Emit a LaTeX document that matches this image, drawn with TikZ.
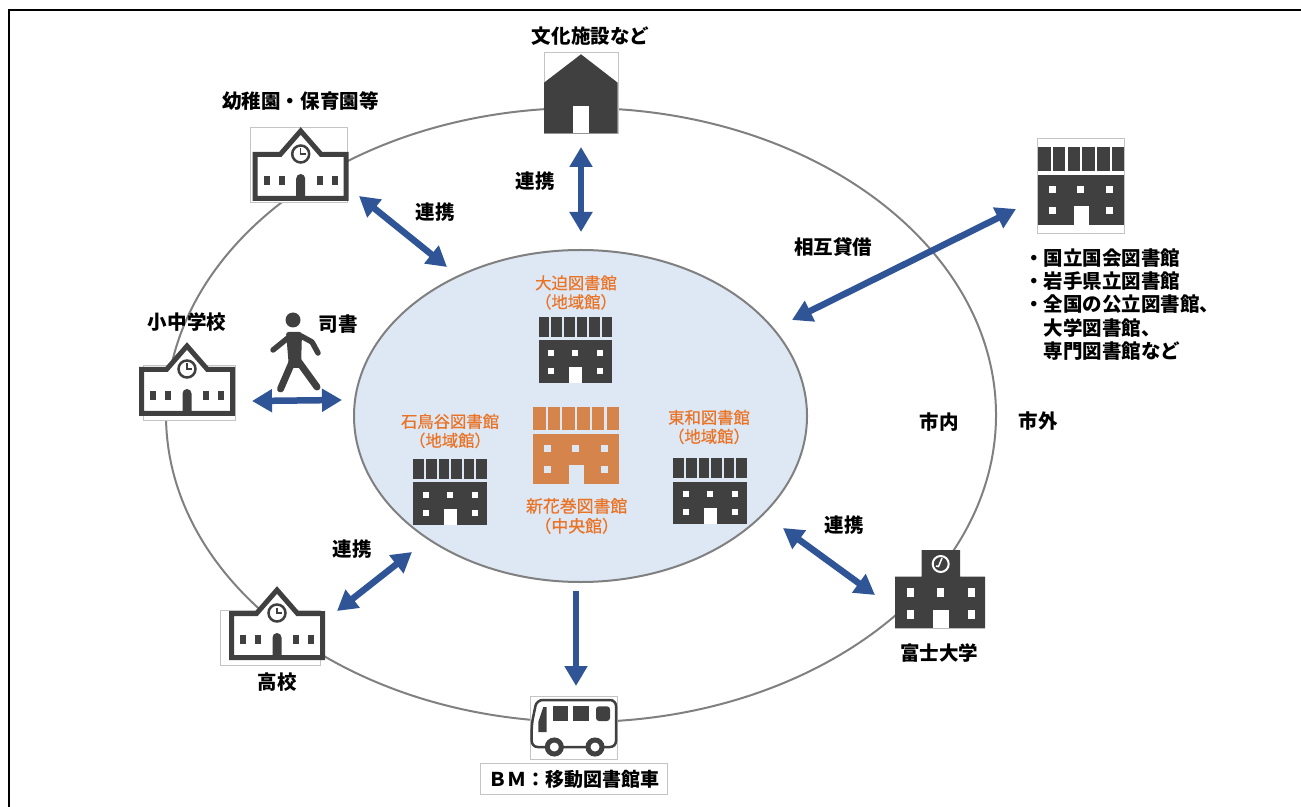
\documentclass[tikz,border=0pt]{standalone}
\usepackage{fontspec}
\setmainfont{Noto Sans CJK JP}
\newfontfamily\orangefont{Noto Sans CJK JP}[FakeBold=0.6]
\usetikzlibrary{arrows.meta,shapes.geometric}
\definecolor{icondark}{HTML}{404040}
\definecolor{linkblue}{HTML}{2F5597}
\definecolor{liborange}{HTML}{D5844C}
\definecolor{textorange}{HTML}{EA7326}
\definecolor{hubblue}{HTML}{DDE8F4}
\definecolor{ringgray}{HTML}{808080}
\definecolor{boxgray}{HTML}{C4C4C4}
\tikzset{
  linkarrow/.style={{Triangle[length=4mm,width=4.4mm]}-{Triangle[length=4mm,width=4.4mm]}, line width=1.3mm, draw=linkblue},
  pusharrow/.style={-{Triangle[length=4mm,width=4.4mm]}, line width=1.3mm, draw=linkblue},
  iconbox/.style={draw=boxgray, fill=white, line width=0.2mm, inner sep=0pt},
  blacklabel/.style={font=\fontsize{11.1}{13}\selectfont\bfseries, inner sep=0pt, align=center},
  orangelabel/.style={font=\orangefont\fontsize{9.3}{10.8}\selectfont, text=textorange, inner sep=0pt, align=center},
  pics/schoolicon/.style={code={
    \draw[draw=icondark, fill=white, line width=1mm] (-20.5,26.5) -- (0,3) -- (20.5,26.5) -- (45.5,26.5) -- (45.5,70.5) -- (-45.5,70.5) -- (-45.5,26.5) -- cycle;
    \draw[draw=icondark, fill=white, line width=0.5mm] (0,26) circle[radius=8.5];
    \draw[draw=icondark, line width=0.25mm] (0,20.5) -- (0,26) -- (5,26);
    \foreach \wx in {-34,-19,19,34} \fill[icondark] (\wx-2.8,48) rectangle (\wx+2.8,57);
    \fill[icondark] (-4.5,71) -- (-4.5,50.5) arc[start angle=180, end angle=360, radius=4.5] -- (4.5,71) -- cycle;
  }},
  pics/libicon/.style 2 args={code={
    \foreach \i in {0,...,5} \fill[#1] ({\i*12.6},0) rectangle ++(10.7,20);
    \fill[#1] (0,23.3) rectangle (73.7,66);
    \foreach \wx/\wy in {12.3/36,36.7/36,61.3/36,12.3/54,61.3/54} \fill[#2] (\wx-3,\wy-3) rectangle (\wx+3,\wy+3);
    \fill[#2] (30.7,50) rectangle (43.3,66);
  }}
}
\begin{document}
\begin{tikzpicture}[x=0.2mm,y=-0.2mm]
  \useasboundingbox (0,0) rectangle (1301,807);
  \draw[line width=0.4mm] (1301,10.5) -- (9,10.5) -- (9,807);
  % the two rings
  \node (cityring) [draw=ringgray, line width=0.4mm, ellipse, inner sep=0pt, minimum width=166mm, minimum height=122.8mm] at (581,415) {};
  \node (hub) [draw=ringgray, fill=hubblue, line width=0.4mm, ellipse, inner sep=0pt, minimum width=90.6mm, minimum height=66.4mm] at (580.5,416) {};
  % boxes behind the icons
  \node (kinderbox) [iconbox, minimum width=19.3mm, minimum height=14.9mm] at (299,165) {};
  \node (elembox) [iconbox, minimum width=18.4mm, minimum height=10.8mm] at (189,393) {};
  \node (highbox) [iconbox, minimum width=20.1mm, minimum height=10.9mm] at (270.4,637.8) {};
  \node (housebox) [iconbox, minimum width=14.8mm, minimum height=16.3mm] at (581,93) {};
  \node (busbox) [iconbox, minimum width=17.4mm, minimum height=12.6mm] at (573.5,727.5) {};
  \node (ndlbox) [iconbox, minimum width=17.3mm, minimum height=19mm] at (1081,185.8) {};
  % schools
  \pic at (300.7,128) {schoolicon};
  \pic at (187,343) {schoolicon};
  \pic at (277,587) {schoolicon};
  % libraries
  \pic at (538.7,316.7) {libicon={icondark}{white}};
  \pic at (413.3,459) {libicon={icondark}{white}};
  \pic at (673.3,458.3) {libicon={icondark}{white}};
  \pic[scale=1.17] at (533,406.7) {libicon={liborange}{hubblue}};
  \pic[scale=1.17] at (1038,147.5) {libicon={icondark}{white}};
  % culture house
  \fill[icondark] (581,54.3) -- (617.7,82.7) -- (617.7,133.3) -- (544,133.3) -- (544,82.7) -- cycle;
  \fill[white] (573.3,106) rectangle (589.3,133.3);
  % university
  \fill[icondark] (921.7,550) -- (960,550) -- (960,576.7) -- (985,576.7) -- (985,628.3) -- (895,628.3) -- (895,576.7) -- (921.7,576.7) -- cycle;
  \foreach \wx/\wy in {906.7/588.3,936.7/588.3,967.7/588.3,906.7/610,967.7/610} \fill[white] (\wx,\wy) rectangle ++(7.6,9);
  \fill[white] (933.3,610) rectangle (949.3,628.3);
  \draw[white, line width=0.4mm] (940.7,564) circle[radius=8];
  \draw[white, line width=0.3mm] (942,558) -- (938.5,566.5) -- (936,566);
  % bus
  \begin{scope}[shift={(530,696)}]
    \draw[draw=icondark, fill=white, line width=0.5mm, rounded corners=1.2mm] (1.7,51) -- (1.7,28) -- (6.7,4) -- (86,4) -- (86,51) -- cycle;
    \fill[icondark] (22.7,10.3) rectangle (38.3,25);
    \fill[icondark] (43.3,10.3) rectangle (59.3,25);
    \fill[icondark, rounded corners=0.6mm] (66,25) -- (66,10.3) -- (80,10.3) -- (80,25) -- cycle;
    \fill[icondark] (8.3,36) -- (16.7,36) -- (16.7,11) -- (13.3,11) -- (8.3,26) -- cycle;
    \draw[draw=icondark, fill=white, line width=1mm] (24.3,51) circle[radius=7];
    \draw[draw=icondark, fill=white, line width=1mm] (65,51) circle[radius=7];
  \end{scope}
  % walking librarian
  \fill[icondark] (293,320) circle[radius=7.5];
  \begin{scope}[draw=icondark, line cap=round, line join=round]
    \fill[icondark, rounded corners=0.5mm] (286,332) -- (302,332) -- (301,368) -- (289,368) -- cycle;
    \draw[line width=1.1mm] (289,337) -- (281.7,343) -- (273,350);
    \draw[line width=1.1mm] (301,336) -- (312,342) -- (318,353);
    \draw[line width=1.4mm] (293,360) -- (280.5,389);
    \draw[line width=1.4mm] (296,358) -- (317,387);
  \end{scope}
  % arrow ends
  \coordinate (houselink) at (581,147);
  \coordinate (hubtop) at (581,232);
  \coordinate (kinderlink) at (359,196);
  \coordinate (hubkinder) at (447,267);
  \coordinate (ndllink) at (1016,209);
  \coordinate (hubndl) at (792,320);
  \coordinate (walklink) at (252,401);
  \coordinate (hubwalk) at (342,400);
  \coordinate (highlink) at (337,611);
  \coordinate (hubhigh) at (412,552);
  \coordinate (hubfuji) at (783,528);
  \coordinate (fujilink) at (875,595);
  \coordinate (hubbus) at (576,591);
  \coordinate (buslink) at (576,686);
  \draw[linkarrow] (houselink) -- (hubtop);
  \draw[linkarrow] (kinderlink) -- (hubkinder);
  \draw[linkarrow] (ndllink) -- (hubndl);
  \draw[linkarrow] (walklink) -- (hubwalk);
  \draw[linkarrow] (highlink) -- (hubhigh);
  \draw[linkarrow] (hubfuji) -- (fujilink);
  \draw[pusharrow] (hubbus) -- (buslink);
  % labels
  \node (houselabel) [blacklabel] at (590.5,36) {文化施設など};
  \node (kinderlabel) [blacklabel] at (300.5,101) {幼稚園・保育園等};
  \node (elemlabel) [blacklabel] at (187,322) {小中学校};
  \node (walklabel) [blacklabel] at (338,324) {司書};
  \node (highlabel) [blacklabel] at (277,682) {高校};
  \node (fujilabel) [blacklabel] at (939,653) {富士大学};
  \node (linkA) [blacklabel] at (535,181) {連携};
  \node (linkB) [blacklabel] at (435,212) {連携};
  \node (linkC) [blacklabel] at (352,549) {連携};
  \node (linkD) [blacklabel] at (844,525) {連携};
  \node (loanlabel) [blacklabel] at (833,247) {相互貸借};
  \node (innerlabel) [blacklabel] at (939,422) {市内};
  \node (outerlabel) [blacklabel] at (1038,421) {市外};
  \node (ndllabel) [blacklabel, anchor=west, align=left, font=\fontsize{11.1}{13.3}\selectfont\bfseries] at (1024,304.5) {・国立国会図書館\\・岩手県立図書館\\・全国の公立図書館、\\　大学図書館、\\　専門図書館など};
  \node (busname) [draw=boxgray, fill=white, line width=0.2mm, font=\fontsize{10.8}{13}\selectfont\bfseries, inner sep=0pt, minimum width=37.5mm, minimum height=6.3mm] at (573.8,779) {ＢＭ：移動図書館車};
  \node (oohasama) [orangelabel] at (576,292.5) {大迫図書館\\（地域館）};
  \node (ishidoriya) [orangelabel] at (450,431) {石鳥谷図書館\\（地域館）};
  \node (towa) [orangelabel] at (709,427) {東和図書館\\（地域館）};
  \node (shinhanamaki) [orangelabel, font=\orangefont\fontsize{9.6}{11.3}\selectfont] at (576.7,516) {新花巻図書館\\（中央館）};
\end{tikzpicture}
\end{document}
